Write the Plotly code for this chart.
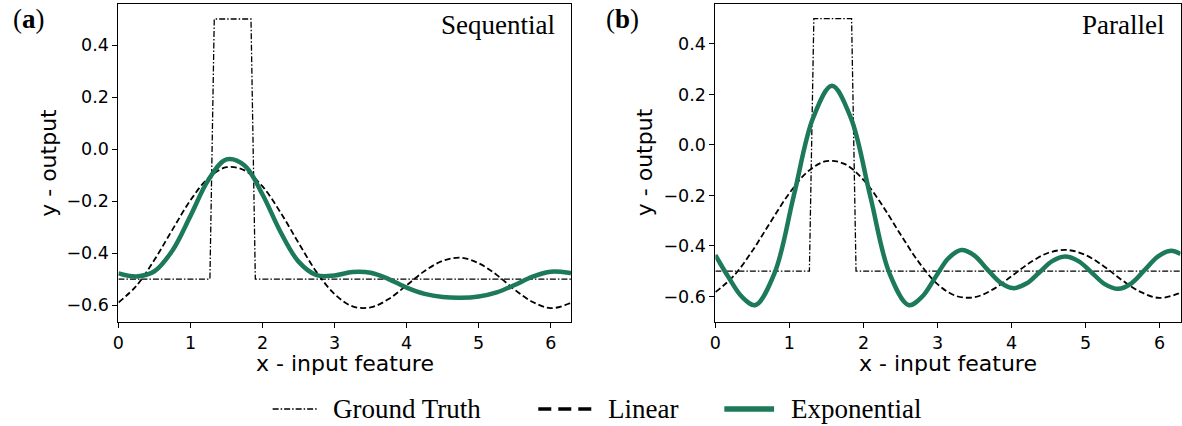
import plotly.graph_objects as go

# ---------------- data ----------------
x_grid = [0.0, 0.25, 0.5, 0.75, 1.0, 1.25, 1.5, 1.75, 2.0, 2.25, 2.5, 2.75, 3.0,
          3.25, 3.5, 3.75, 4.0, 4.25, 4.5, 4.75, 5.0, 5.25, 5.5, 5.75, 6.0, 6.25, 6.283]

gt_x = [0.0, 1.27, 1.33, 1.84, 1.90, 6.283]
gt_y = [-0.5, -0.5, 0.5, 0.5, -0.5, -0.5]

seq_linear = [-0.590, -0.526, -0.426, -0.310, -0.197, -0.111, -0.070, -0.082, -0.144,
              -0.244, -0.361, -0.473, -0.558, -0.605, -0.609, -0.577, -0.524, -0.469,
              -0.430, -0.418, -0.439, -0.484, -0.541, -0.588, -0.612, -0.595, -0.590]
seq_exp = [-0.478, -0.490, -0.470, -0.390, -0.257, -0.118, -0.040, -0.063, -0.175,
           -0.319, -0.433, -0.485, -0.486, -0.473, -0.476, -0.500, -0.533, -0.557,
           -0.569, -0.572, -0.567, -0.551, -0.523, -0.491, -0.472, -0.476, -0.478]

par_linear = [-0.583, -0.518, -0.419, -0.303, -0.191, -0.105, -0.064, -0.076, -0.138,
              -0.237, -0.354, -0.465, -0.551, -0.598, -0.603, -0.572, -0.520, -0.466,
              -0.427, -0.416, -0.436, -0.481, -0.537, -0.583, -0.606, -0.589, -0.583]
par_exp_x = [0.0, 0.18, 0.36, 0.54, 0.80, 1.06, 1.32, 1.575, 1.83, 2.09, 2.35, 2.61,
             2.79, 2.97, 3.15, 3.325, 3.50, 3.67, 3.85, 4.02, 4.20, 4.375, 4.55, 4.73,
             4.91, 5.085, 5.26, 5.44, 5.62, 5.80, 5.98, 6.155, 6.283]
par_exp = [-0.436, -0.525, -0.602, -0.634, -0.507, -0.200, 0.107, 0.234, 0.107, -0.200,
           -0.507, -0.634, -0.602, -0.525, -0.448, -0.416, -0.438, -0.492, -0.545, -0.567,
           -0.549, -0.505, -0.460, -0.442, -0.461, -0.506, -0.551, -0.570, -0.548, -0.495,
           -0.441, -0.419, -0.432]

x_ticks = [0, 1, 2, 3, 4, 5, 6]
y_ticks = [-0.6, -0.4, -0.2, 0.0, 0.2, 0.4]
panel_titles = ["Sequential", "Parallel"]
panel_tags = ["(<b>a</b>)", "(<b>b</b>)"]
legend_names = ["Ground Truth", "Linear", "Exponential"]

# ---------------- styling ----------------
W, H = 1182, 426
GREEN = "#1c7a58"
SERIF = "Liberation Serif"
SANS = "DejaVu Sans"


def px(x):
    return x / W


def py(y):
    return 1 - y / H


fig = go.Figure()

panels = [
    ("x", "y", seq_linear, x_grid, seq_exp),
    ("x2", "y2", par_linear, par_exp_x, par_exp),
]
for xa, ya, lin, ex_x, ex_y in panels:
    fig.add_trace(go.Scatter(x=gt_x, y=gt_y, xaxis=xa, yaxis=ya, mode="lines",
                             name=legend_names[0], showlegend=False,
                             line=dict(color="black", width=1.3, dash="6px,2px,1.5px,2px")))
    fig.add_trace(go.Scatter(x=x_grid, y=lin, xaxis=xa, yaxis=ya, mode="lines",
                             name=legend_names[1], showlegend=False,
                             line=dict(color="black", width=1.8, dash="6px,3px",
                                       shape="spline")))
    fig.add_trace(go.Scatter(x=ex_x, y=ex_y, xaxis=xa, yaxis=ya, mode="lines",
                             name=legend_names[2], showlegend=False,
                             line=dict(color=GREEN, width=4.5, shape="spline")))

axis_common = dict(ticks="outside", ticklen=5, tickwidth=1, tickcolor="black",
                   showline=True, linecolor="black", linewidth=1, mirror=True,
                   showgrid=False, zeroline=False,
                   tickfont=dict(family=SANS, size=17.5, color="black"))

fig.update_layout(
    width=W, height=H,
    margin=dict(l=0, r=0, t=0, b=0),
    paper_bgcolor="white", plot_bgcolor="white",
    showlegend=False,
    xaxis=dict(domain=[px(113), px(568)], anchor="y", range=[0, 6.283],
               tickvals=x_ticks, **axis_common),
    yaxis=dict(domain=[py(321.7), py(4.3)], anchor="x", range=[-0.664, 0.5565],
               tickvals=y_ticks, tickformat=".1f", **axis_common),
    xaxis2=dict(domain=[px(713), px(1180.5)], anchor="y2", range=[0, 6.283],
                tickvals=x_ticks, **axis_common),
    yaxis2=dict(domain=[py(321.7), py(4.3)], anchor="x2", range=[-0.70, 0.557],
                tickvals=y_ticks, tickformat=".1f", **axis_common),
)

ann = []
# panel tags and titles
ann.append(dict(x=px(5), y=py(19), text=panel_tags[0], xanchor="left", yanchor="middle"))
ann.append(dict(x=px(601), y=py(19), text=panel_tags[1], xanchor="left", yanchor="middle"))
ann.append(dict(x=px(554), y=py(25), text=panel_titles[0], xanchor="right", yanchor="middle"))
ann.append(dict(x=px(1166), y=py(25), text=panel_titles[1], xanchor="right", yanchor="middle"))
for a in ann:
    a.update(xref="paper", yref="paper", showarrow=False,
             font=dict(family=SERIF, size=27, color="black"))

# axis labels
label_font = dict(family=SANS, size=22, color="black")
for cx in (340.5, 947):
    ann.append(dict(x=px(cx), y=py(363), text="x - input feature", xref="paper", yref="paper",
                    showarrow=False, xanchor="center", yanchor="middle", font=label_font))
for cx in (42.5, 642):
    ann.append(dict(x=px(cx), y=py(162.5), text="y - output", xref="paper", yref="paper",
                    showarrow=False, xanchor="center", yanchor="middle", textangle=-90,
                    font=label_font))

# legend (manual, below the panels)
leg_y = 409
leg_items = [
    (268, 313, dict(color="black", width=1.3, dash="6px,2px,1.5px,2px"), 327, legend_names[0]),
    (535, 590, dict(color="black", width=3.5, dash="13px,7px"), 603, legend_names[1]),
    (722, 772, dict(color=GREEN, width=5.5), 787, legend_names[2]),
]
shapes = []
for x0, x1, ln, tx, name in leg_items:
    shapes.append(dict(type="line", xref="paper", yref="paper", x0=px(x0), x1=px(x1),
                       y0=py(leg_y), y1=py(leg_y), line=ln))
    ann.append(dict(x=px(tx), y=py(leg_y), text=name, xref="paper", yref="paper",
                    showarrow=False, xanchor="left", yanchor="middle",
                    font=dict(family=SERIF, size=27, color="black")))

fig.update_layout(annotations=ann, shapes=shapes)

fig.write_html("out.html")
